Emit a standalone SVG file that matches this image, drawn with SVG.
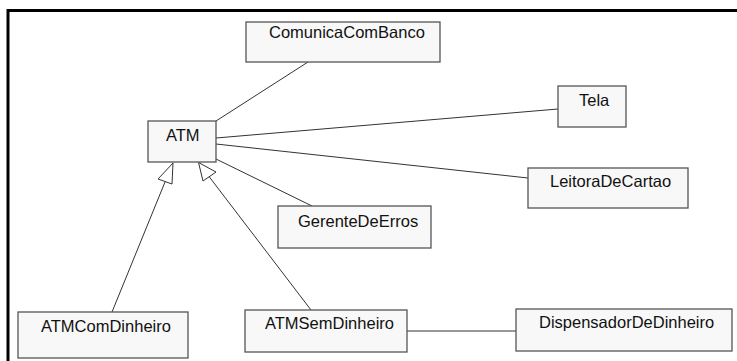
<svg xmlns="http://www.w3.org/2000/svg" width="737" height="361" viewBox="0 0 737 361">
<style>
.box{fill:#f8f8f8;stroke:#555;stroke-width:1.3}
.lbl{font-family:"Liberation Sans",Arial,sans-serif;font-size:16.5px;fill:#111}
.conn{stroke:#333;stroke-width:1;fill:none}
.tri{fill:#fff;stroke:#333;stroke-width:1}
</style>
<rect width="737" height="361" fill="#fff"/>
<path d="M8,361 V10.5 H737" fill="none" stroke="#000" stroke-width="3"/>
<g id="connectors">
<line class="conn" x1="216" y1="121" x2="308" y2="62"/>
<line class="conn" x1="216" y1="138" x2="558" y2="109"/>
<line class="conn" x1="216" y1="144" x2="528" y2="178"/>
<line class="conn" x1="216" y1="159" x2="312" y2="206"/>
<line class="conn" x1="407" y1="331" x2="516" y2="331"/>
<line class="conn" x1="112" y1="312" x2="165" y2="182"/>
<polygon class="tri" points="173,163 158,179 172,184"/>
<line class="conn" x1="311" y1="310" x2="209" y2="176.5"/>
<polygon class="tri" points="198.5,162.5 203,181 216,172"/>
</g>
<g id="ComunicaComBanco"><rect class="box" x="246" y="22" width="194" height="40"/><text class="lbl" x="269" y="38">ComunicaComBanco</text></g>
<g id="ATM"><rect class="box" x="148" y="121" width="68" height="41"/><text class="lbl" x="166" y="141">ATM</text></g>
<g id="Tela"><rect class="box" x="558" y="86" width="68" height="41"/><text class="lbl" x="579" y="106">Tela</text></g>
<g id="LeitoraDeCartao"><rect class="box" x="528" y="168" width="160" height="40"/><text class="lbl" x="550" y="187">LeitoraDeCartao</text></g>
<g id="GerenteDeErros"><rect class="box" x="278" y="206" width="153" height="42"/><text class="lbl" x="298" y="227">GerenteDeErros</text></g>
<g id="ATMComDinheiro"><rect class="box" x="18" y="312" width="170" height="46"/><text class="lbl" x="41" y="332">ATMComDinheiro</text></g>
<g id="ATMSemDinheiro"><rect class="box" x="245" y="310" width="162" height="42"/><text class="lbl" x="265" y="329">ATMSemDinheiro</text></g>
<g id="DispensadorDeDinheiro"><rect class="box" x="516" y="309" width="216" height="42"/><text class="lbl" x="539" y="328">DispensadorDeDinheiro</text></g>
</svg>
